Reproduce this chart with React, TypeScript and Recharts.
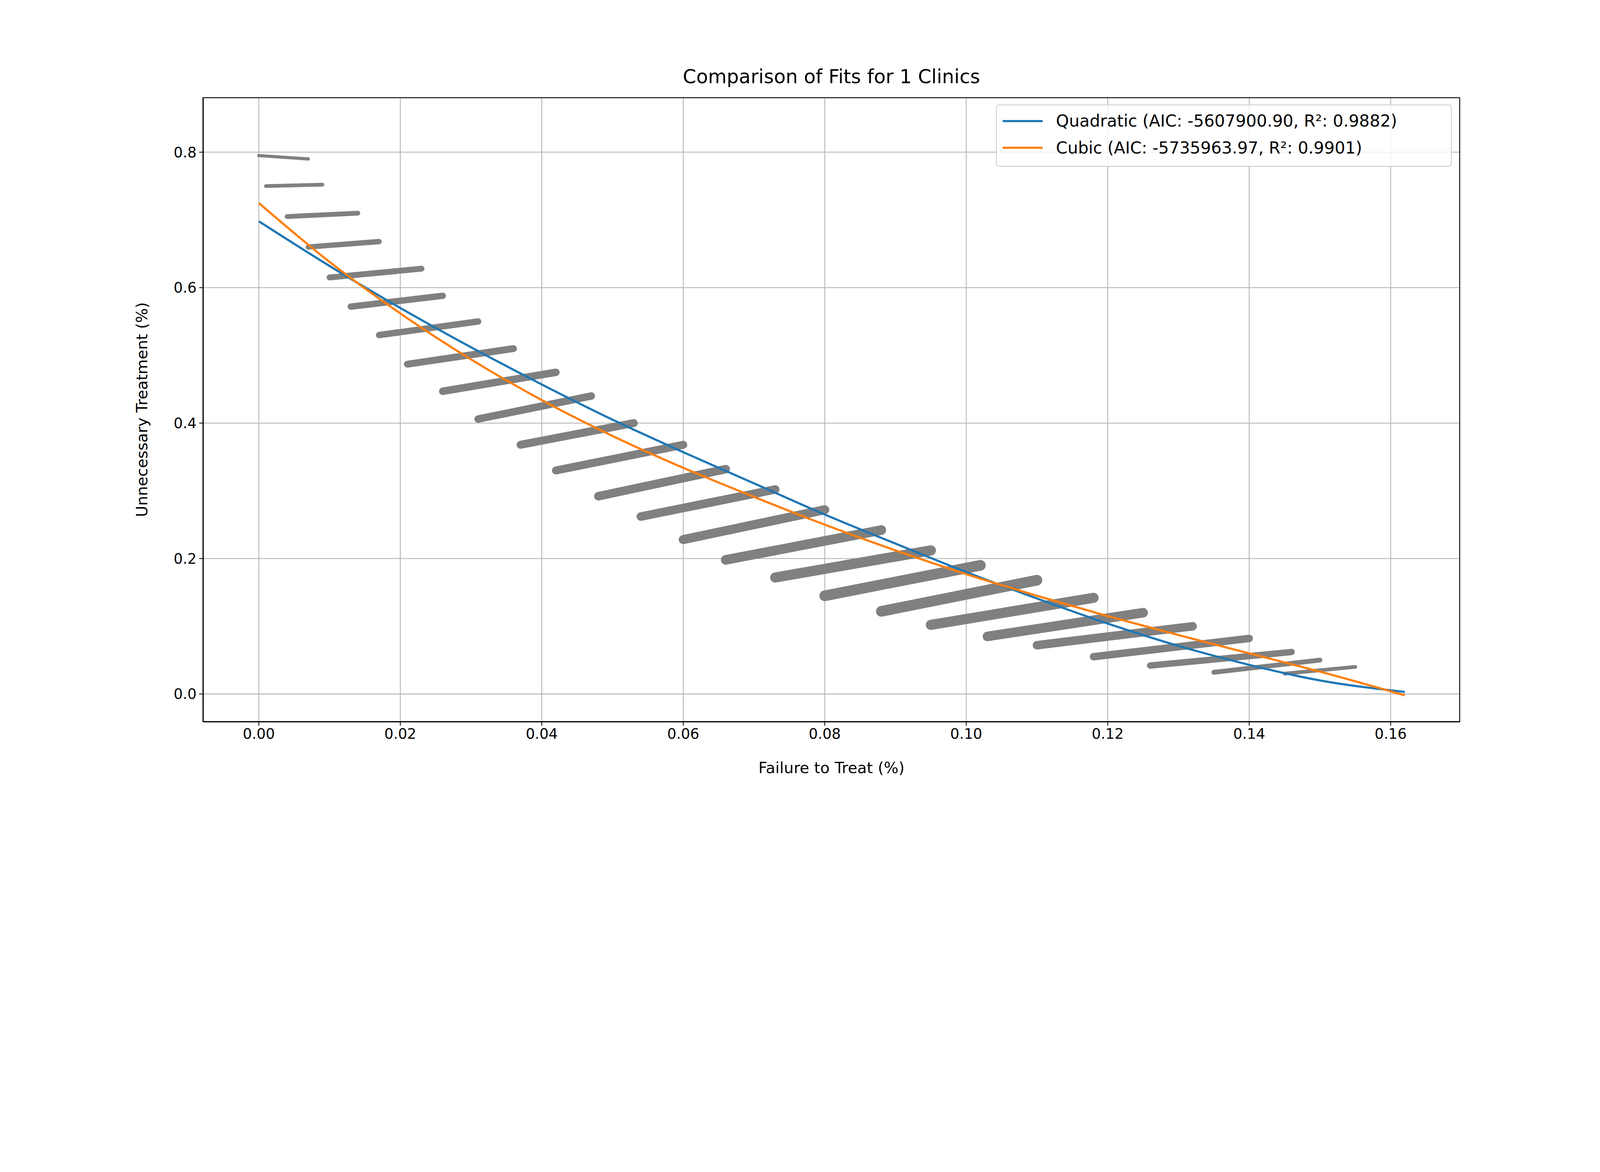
import React from 'react'
import { ComposedChart, Line, XAxis, YAxis, CartesianGrid } from 'recharts'

// gray scatter streaks: [x0, y0, x1, y1, thickness]
const bands: number[][] = [
  [0.000, 0.795, 0.007, 0.790, 12],
  [0.001, 0.750, 0.009, 0.752, 14],
  [0.004, 0.705, 0.014, 0.710, 18],
  [0.007, 0.660, 0.017, 0.668, 20],
  [0.010, 0.615, 0.023, 0.628, 22],
  [0.013, 0.572, 0.026, 0.588, 24],
  [0.017, 0.530, 0.031, 0.550, 24],
  [0.021, 0.487, 0.036, 0.510, 26],
  [0.026, 0.447, 0.042, 0.475, 28],
  [0.031, 0.406, 0.047, 0.440, 28],
  [0.037, 0.368, 0.053, 0.400, 30],
  [0.042, 0.330, 0.060, 0.368, 30],
  [0.048, 0.292, 0.066, 0.332, 32],
  [0.054, 0.262, 0.073, 0.302, 32],
  [0.060, 0.228, 0.080, 0.272, 34],
  [0.066, 0.198, 0.088, 0.242, 36],
  [0.073, 0.172, 0.095, 0.212, 38],
  [0.080, 0.145, 0.102, 0.190, 40],
  [0.088, 0.122, 0.110, 0.168, 40],
  [0.095, 0.102, 0.118, 0.142, 38],
  [0.103, 0.085, 0.125, 0.120, 36],
  [0.110, 0.072, 0.132, 0.100, 32],
  [0.118, 0.055, 0.140, 0.082, 28],
  [0.126, 0.042, 0.146, 0.062, 24],
  [0.135, 0.032, 0.150, 0.050, 18],
  [0.145, 0.030, 0.155, 0.040, 14],
]

const fitX = [0, 0.01, 0.02, 0.03, 0.04, 0.05, 0.06, 0.07, 0.08, 0.09, 0.10, 0.11, 0.12, 0.13, 0.14, 0.15, 0.162]
const quadY = [0.698, 0.632, 0.570, 0.512, 0.457, 0.405, 0.357, 0.311, 0.265, 0.222, 0.180, 0.141, 0.104, 0.071, 0.043, 0.020, 0.003]
const cubicY = [0.725, 0.638, 0.562, 0.494, 0.434, 0.381, 0.334, 0.291, 0.250, 0.212, 0.177, 0.145, 0.115, 0.087, 0.060, 0.033, -0.002]

const xTicks = [0, 0.02, 0.04, 0.06, 0.08, 0.1, 0.12, 0.14, 0.16]
const yTicks = [0, 0.2, 0.4, 0.6, 0.8]

const quadData = fitX.map((x, i) => ({ x, y: quadY[i] }))
const cubicData = fitX.map((x, i) => ({ x, y: cubicY[i] }))

const font = 'DejaVu Sans, sans-serif'
const tick = { fontSize: 54, fill: '#000', fontFamily: font }

export default function App() {
  // fit into the viewport if it is narrower than the chart
  const s = typeof window !== 'undefined' ? Math.min(1, window.innerWidth / 6000) : 1
  return (
    <div style={{ position: 'absolute', left: 0, top: 0, width: 6000, height: 3000, background: '#fff', fontFamily: font, transform: `scale(${s})`, transformOrigin: '0 0' }}>
      <ComposedChart width={6000} height={3000} margin={{ top: 365, right: 525, left: 561, bottom: 93 }}>
        <CartesianGrid stroke="#b0b0b0" strokeWidth={3} />
        <XAxis type="number" dataKey="x" domain={[-0.0079, 0.1698]} ticks={xTicks} tickFormatter={(v) => v.toFixed(2)}
          tick={tick} height={200} stroke="#000" strokeWidth={3} tickSize={14} tickMargin={10} allowDataOverflow />
        <YAxis type="number" dataKey="y" domain={[-0.0413, 0.881]} ticks={yTicks} tickFormatter={(v) => v.toFixed(1)}
          tick={tick} width={200} stroke="#000" strokeWidth={3} tickSize={14} tickMargin={10} allowDataOverflow />
        {bands.map((b, i) => (
          <Line key={i} data={[{ x: b[0], y: b[1] }, { x: b[2], y: b[3] }]} dataKey="y" stroke="#808080"
            strokeWidth={b[4]} strokeLinecap="round" dot={false} isAnimationActive={false} type="linear" />
        ))}
        <Line data={quadData} dataKey="y" stroke="#1f77b4" strokeWidth={8} dot={false} isAnimationActive={false} type="monotone" />
        <Line data={cubicData} dataKey="y" stroke="#ff7f0e" strokeWidth={8} dot={false} isAnimationActive={false} type="monotone" />
      </ComposedChart>
      <div style={{ position: 'absolute', left: 761, top: 365, width: 4714, height: 2342, border: '3px solid #000', boxSizing: 'border-box', pointerEvents: 'none' }} />
      <div style={{ position: 'absolute', left: 0, width: 6236, top: 245, textAlign: 'center', fontSize: 72 }}>Comparison of Fits for 1 Clinics</div>
      <div style={{ position: 'absolute', left: 0, width: 6236, top: 2845, textAlign: 'center', fontSize: 58 }}>Failure to Treat (%)</div>
      <div style={{ position: 'absolute', left: 532, top: 1536, transform: 'translate(-50%, -50%) rotate(-90deg)', fontSize: 58, whiteSpace: 'nowrap' }}>Unnecessary Treatment (%)</div>
      <div style={{ position: 'absolute', left: 3735, top: 392, width: 1709, height: 233, border: '3px solid #ccc', borderRadius: 12, background: 'rgba(255,255,255,0.8)', boxSizing: 'border-box', fontSize: 62 }}>
        <div style={{ position: 'absolute', left: 22, top: 22, display: 'flex', alignItems: 'center', whiteSpace: 'nowrap' }}>
          <span style={{ display: 'inline-block', width: 150, height: 8, background: '#1f77b4', marginRight: 50 }} />Quadratic (AIC: -5607900.90, R²: 0.9882)
        </div>
        <div style={{ position: 'absolute', left: 22, top: 122, display: 'flex', alignItems: 'center', whiteSpace: 'nowrap' }}>
          <span style={{ display: 'inline-block', width: 150, height: 8, background: '#ff7f0e', marginRight: 50 }} />Cubic (AIC: -5735963.97, R²: 0.9901)
        </div>
      </div>
    </div>
  )
}
